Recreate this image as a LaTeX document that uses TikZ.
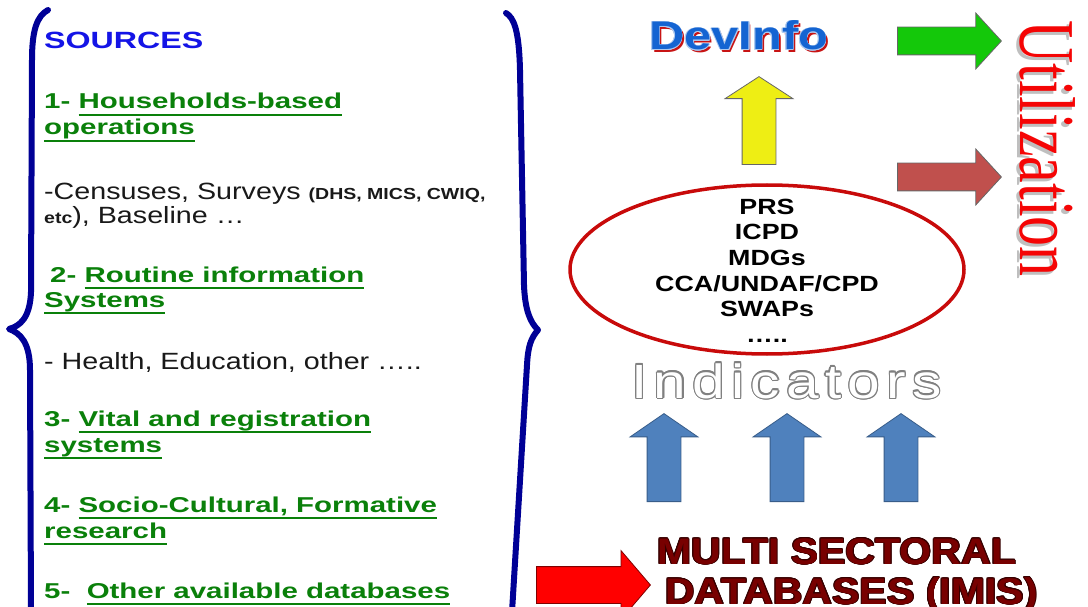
\documentclass[tikz,border=0pt]{standalone}
\usepackage{fontspec}
\setmainfont{Liberation Sans}
\usetikzlibrary{shapes.arrows,shapes.geometric}
\newfontfamily\sfa[FakeStretch=1.22]{Liberation Sans}
\newfontfamily\sfb[FakeStretch=1.37]{Liberation Sans}
\newfontfamily\sfc[FakeStretch=1.11]{Liberation Sans}
\newfontfamily\sfind[FakeStretch=1.22,LetterSpace=13]{Liberation Sans}
\newfontfamily\serifu{Liberation Serif}
\newsavebox{\ulnbox}
\newsavebox{\outlbox}
% underlined words
\newcommand{\uln}[1]{\sbox{\ulnbox}{#1}\rlap{\rule[-6.9pt]{\wd\ulnbox}{1.8pt}}\usebox{\ulnbox}}
% text with an outline of copies: #1 width, #2 colour, #3 text
\newcommand{\outl}[3]{{\sbox{\outlbox}{#3}%
  \foreach \a in {0,30,...,330}{%
    \pgfmathsetlengthmacro\odx{#1*cos(\a)}\pgfmathsetlengthmacro\ody{#1*sin(\a)}%
    \rlap{\hspace*{\odx}\raisebox{\ody}{\color{#2}#3}}}%
  \usebox{\outlbox}}}
\definecolor{braceblue}{RGB}{0,0,150}
\definecolor{srcblue}{RGB}{20,20,230}
\definecolor{itemgreen}{RGB}{10,128,10}
\definecolor{notegray}{RGB}{25,25,25}
\definecolor{ovalred}{RGB}{200,10,10}
\definecolor{devblue}{RGB}{20,100,210}
\definecolor{devred}{RGB}{200,20,20}
\definecolor{utilred}{RGB}{245,5,5}
\definecolor{upblue}{RGB}{79,129,189}
\definecolor{upblueline}{RGB}{56,93,138}
\definecolor{upyellow}{RGB}{238,238,20}
\definecolor{gogreen}{RGB}{20,200,10}
\definecolor{gobrown}{RGB}{192,80,77}
\definecolor{gored}{RGB}{255,0,0}
\definecolor{dbmaroon}{RGB}{120,0,0}
\definecolor{dbdark}{RGB}{55,0,0}
\tikzstyle{srchead}=[anchor=base west,
                     inner sep=0pt,
                     text=srcblue,
                     font=\sfb\bfseries\fontsize{23.5}{28}\selectfont]
\tikzstyle{item}=[anchor=base west,
                  inner sep=0pt,
                  text=itemgreen,
                  font=\sfb\bfseries\fontsize{21.5}{26}\selectfont]
\tikzstyle{note}=[anchor=base west,
                  inner sep=0pt,
                  text=notegray,
                  font=\sfa\fontsize{23.5}{28}\selectfont]
\tikzstyle{goal}=[anchor=base,
                  inner sep=0pt,
                  font=\sfa\bfseries\fontsize{22}{26}\selectfont]
\tikzstyle{db}=[anchor=base west,
                inner sep=0pt,
                text=dbmaroon,
                font=\sfc\bfseries\fontsize{37}{40}\selectfont]
\tikzstyle{brace}=[draw=braceblue,
                   line width=6pt,
                   line cap=round,
                   line join=round]
\tikzstyle{block}=[single arrow,
                   draw=black!60,
                   line width=0.8pt,
                   inner xsep=0pt,
                   single arrow head indent=0pt,
                   anchor=tail]
\tikzstyle{uparrow}=[block,
                     rotate=90,
                     fill=upblue,
                     draw=upblueline,
                     minimum height=88pt,
                     inner ysep=16.5pt,
                     single arrow head extend=17pt,
                     single arrow tip angle=111]
\tikzstyle{goarrow}=[block,
                     minimum height=104pt,
                     inner ysep=13.5pt,
                     single arrow head extend=14pt,
                     single arrow tip angle=95]

\begin{document}
\begin{tikzpicture}[x=1pt,y=-1pt]
      \fill[white] (0,0) rectangle (1088,607);
      \useasboundingbox (0,0) rectangle (1088,607);

      % sources list
      \draw[brace] (48,10) .. controls (37,16) and (32,30) .. (32,60) -- (31,292)
            .. controls (30,318) and (20,326) .. (9,329)
            .. controls (20,333) and (30,342) .. (30,370) -- (31,612);
      \draw[brace] (506,13) .. controls (514,18) and (519,30) .. (520,70) -- (524,285)
            .. controls (525,310) and (530,322) .. (538,330)
            .. controls (531,338) and (528,346) .. (527,365) -- (512,612);

      \node[srchead] (sources) at (44,49) {SOURCES};
      \node[item] (hh1)  at (44,109) {1- \uln{Households-based}};
      \node[item] (hh2)  at (44,135) {\uln{operations}};
      \node[note] (cen1) at (44,200) {-Censuses, Surveys {\bfseries\fontsize{16}{17}\selectfont (DHS, MICS, CWIQ,}};
      \node[note] (cen2) at (44,224) {{\bfseries\fontsize{16}{17}\selectfont etc}), Baseline …};
      \node[item] (rt1)  at (50,282) {2- \uln{Routine information}};
      \node[item] (rt2)  at (44,307) {\uln{Systems}};
      \node[note] (hl)   at (44,369) {- Health, Education, other …..};
      \node[item] (vt1)  at (44,426) {3- \uln{Vital and registration}};
      \node[item] (vt2)  at (44,452) {\uln{systems}};
      \node[item] (sc1)  at (44,512) {4- \uln{Socio-Cultural, Formative}};
      \node[item] (sc2)  at (44,538) {\uln{research}};
      \node[item] (ot)   at (44,598) {5-\ \ \uln{Other available databases}};

      % databases -> indicators -> frameworks -> DevInfo
      \node[block, fill=gored, draw=red!50!black, minimum height=114pt, inner ysep=18pt,
            single arrow head extend=16pt, single arrow tip angle=99] (toDB) at (536,585) {};
      \node[db] (db1) at (657,564) {\outl{0.9pt}{dbdark}{MULTI SECTORAL}};
      \node[db] (db2) at (665,604) {\outl{0.9pt}{dbdark}{DATABASES (IMIS)}};

      \foreach \x [count=\i] in {664,787,901}
        \node[uparrow] (feed\i) at (\x,502) {};

      \node[anchor=base, inner sep=0pt, font=\sfind\fontsize{48}{50}\selectfont] (ind)
            at (786.5,398) {\color{white}\outl{1.2pt}{gray}{Indicators}};

      \node[ellipse, draw=ovalred, line width=3.5pt, minimum width=394pt, minimum height=169pt] (oval)
            at (767,269.5) {};
      \foreach \t [count=\i] in {PRS,ICPD,MDGs,CCA/UNDAF/CPD,SWAPs,…..}
        \node[goal] (goal\i) at (767,{189+25.5*\i}) {\t};

      \node[uparrow, fill=upyellow, draw=black!60, single arrow tip angle=114] (toDev) at (759,165) {};

      \node[anchor=base west, inner sep=0pt, text=devred, font=\sfa\bfseries\fontsize{40}{40}\selectfont]
            (devshadow) at (651,53) {DevInfo};
      \node[anchor=base west, inner sep=0pt, text=devblue, font=\sfa\bfseries\fontsize{40}{40}\selectfont]
            (devinfo) at (649,50) {\outl{0.6pt}{devblue!35!white}{DevInfo}};

      % utilization
      \node[goarrow, fill=gogreen] (useA) at (897,41) {};
      \node[goarrow, fill=gobrown] (useB) at (897,177) {};
      \node[anchor=base west, inner sep=0pt, rotate=-90, text=gray!50, font=\serifu\fontsize{60}{60}\selectfont]
            (utilshadow) at (1017,23) {\scalebox{1}[1.32]{Utilization}};
      \node[anchor=base west, inner sep=0pt, rotate=-90, text=utilred, font=\serifu\fontsize{60}{60}\selectfont]
            (util) at (1020,20) {\scalebox{1}[1.32]{Utilization}};
\end{tikzpicture}
\end{document}
